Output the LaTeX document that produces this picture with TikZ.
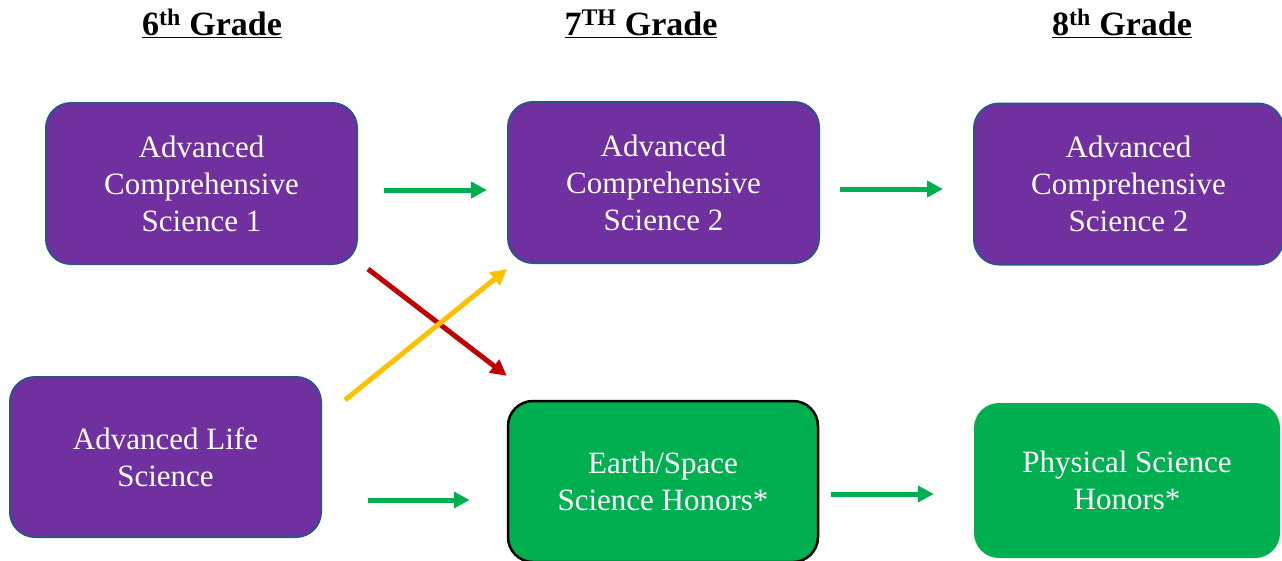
\documentclass[tikz,border=0pt]{standalone}
\usepackage{fontspec}
\setmainfont{Liberation Serif}
\usetikzlibrary{calc,arrows.meta}
\definecolor{purp}{HTML}{7030A0}
\definecolor{bord}{HTML}{2F528F}
\definecolor{grn}{HTML}{00B050}
\definecolor{redc}{HTML}{C00000}
\definecolor{yelc}{HTML}{FFC000}
\tikzset{
  box/.style={rounded corners=25pt, minimum width=311pt, minimum height=161pt, align=center, text=white, font=\fontsize{31}{37}\selectfont, inner sep=0pt},
  purplebox/.style={box, fill=purp, draw=bord, line width=2pt},
  greenbox/.style={box, fill=grn},
  hdr/.style={anchor=base, font=\fontsize{34}{40}\selectfont\bfseries, inner sep=0pt},
  arr/.style={line width=5pt, -{Triangle[length=16pt,width=16pt]}}
}
\begin{document}
\begin{tikzpicture}[x=1pt,y=-1pt]
\useasboundingbox (0,0) rectangle (1282,560);
\node[hdr] (h6) at (212,35) {\underline{6\textsuperscript{th} Grade}};
\node[hdr] (h7) at (641,35) {\underline{7\textsuperscript{TH} Grade}};
\node[hdr] (h8) at (1122,35) {\underline{8\textsuperscript{th} Grade}};

\node[purplebox] (acs1) at (201.5,183.5) {Advanced\\Comprehensive\\Science 1};
\node[purplebox] (acs2) at (663.5,182.5) {Advanced\\Comprehensive\\Science 2};
\node[purplebox, minimum width=309pt] (acs8) at (1128.5,184) {Advanced\\Comprehensive\\Science 2};
\node[purplebox, minimum height=160pt] (als) at (165.5,457) {Advanced Life\\Science};
\node[greenbox, draw=black, line width=2.5pt, minimum width=310pt] (essh) at (663,481.5) {Earth/Space\\Science Honors*};
\node[greenbox, minimum width=306pt, minimum height=155pt] (psh) at (1127,480.5) {Physical Science\\Honors*};

\draw[arr, grn] ($(acs1.east)+(26,6.5)$) -- ($(acs2.west)+(-20,7.5)$);
\draw[arr, grn] ($(acs2.east)+(20,6.5)$) -- ($(acs8.west)+(-30,5)$);
\draw[arr, grn] ($(als.east)+(46,43)$) -- ($(essh.west)+(-37,18.5)$);
\draw[arr, grn] ($(essh.east)+(12,12.5)$) -- ($(psh.west)+(-40,13.5)$);
\draw[arr, redc] ($(acs1.south east)+(10,4)$) -- ($(essh.north west)+(0,-24)$);
\draw[arr, yelc] ($(als.north east)+(23,24)$) -- ($(acs2.south west)+(0,5)$);
\end{tikzpicture}
\end{document}
